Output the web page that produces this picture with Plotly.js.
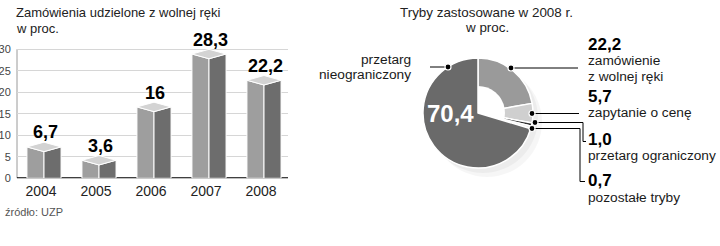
<!DOCTYPE html>
<html><head><meta charset="utf-8">
<script src="https://cdn.plot.ly/plotly-3.0.1.min.js"></script>
<style>html,body{margin:0;padding:0;background:#fff}#chart{width:720px;height:246px}</style>
</head><body><div id="chart"></div>
<script>
// ---- data ----
const years = ['2004', '2005', '2006', '2007', '2008'];
const shares = [6.7, 3.6, 16, 28.3, 22.2];
const yTicks = [0, 5, 10, 15, 20, 25, 30];
const modeNames = ['zamówienie\nz wolnej ręki', 'zapytanie o cenę', 'przetarg ograniczony', 'pozostałe tryby', 'przetarg\nnieograniczony'];
const modeShares = [22.2, 5.7, 1.0, 0.7, 70.4];

// ---- style ----
const FONT = 'Liberation Sans, Arial, sans-serif';
const C_FRONT = '#9e9e9e', C_SIDE = '#6d6d6d', C_TOP = '#d3d3d3';
const HALF = 0.31, DROP = 0.5, RISE = 0.6;
const W = 720, H = 246;
const fmt = v => String(v).replace('.', ',');
const fmt1 = v => v.toFixed(1).replace('.', ',');

const traces = [];
shares.forEach((v, i) => {
  const f = v - DROP, s = v + RISE, b = s + (s - f);
  const common = {type: 'scatter', mode: 'lines', fill: 'toself', hoverinfo: 'skip', showlegend: false,
                  line: {color: '#ffffff', width: 1}, xaxis: 'x', yaxis: 'y'};
  traces.push(Object.assign({}, common, {x: [i - HALF, i - HALF, i, i, i - HALF], y: [0, s, f, 0, 0], fillcolor: C_FRONT}));
  traces.push(Object.assign({}, common, {x: [i, i, i + HALF, i + HALF, i], y: [0, f, s, 0, 0], fillcolor: C_SIDE}));
  traces.push(Object.assign({}, common, {x: [i - HALF, i, i + HALF, i, i - HALF], y: [s, f, s, b, s], fillcolor: C_TOP}));
});

// pie geometry (pixels)
const PC = [478, 113], PR = 55, PHOLE = 27;
const dom = r => ({x: [(PC[0] - r) / W, (PC[0] + r) / W], y: [(H - PC[1] - r) / H, (H - PC[1] + r) / H]});
traces.push({type: 'pie', values: modeShares, labels: modeNames, sort: false, direction: 'clockwise', rotation: 0,
  domain: dom(PR), textinfo: 'none', hoverinfo: 'skip', showlegend: false,
  marker: {colors: ['#9a9a9a', '#cfcfcf', '#333333', '#e8e8e8', '#6a6a6a'], line: {color: '#ffffff', width: 1.5}}});
traces.push({type: 'pie', values: modeShares, labels: modeNames, sort: false, direction: 'clockwise', rotation: 0,
  domain: dom(PHOLE), textinfo: 'none', hoverinfo: 'skip', showlegend: false,
  marker: {colors: ['#ffffff', '#ffffff', '#ffffff', '#ffffff', 'rgba(0,0,0,0)'], line: {width: 0}}});
// pixel overlay axis anchor
traces.push({type: 'scatter', x: [], y: [], xaxis: 'x2', yaxis: 'y2', hoverinfo: 'skip', showlegend: false});

// bar subplot geometry
const PX_PER_UNIT = 4.3, Y0PX = 178.3, YMAX = 32;
const X0PX = 17, X1PX = 288, CAT0 = 44, CATW = 55;
const ydom = [(H - Y0PX) / H, (H - (Y0PX - YMAX * PX_PER_UNIT)) / H];
const xdom = [X0PX / W, X1PX / W];

const annotations = [];
const txt = (x, y, text, size, opts) => Object.assign({xref: 'x2', yref: 'y2', x, y, text, showarrow: false,
  xanchor: 'left', yanchor: 'middle', borderpad: 0, font: {family: FONT, size, color: '#1a1a1a'}}, opts || {});

// bar titles
annotations.push(txt(15, 12, 'Zamówienia udzielone z wolnej ręki', 13, {font: {family: FONT, size: 13, color: '#222'}}));
annotations.push(txt(15, 28.5, 'w proc.', 13, {font: {family: FONT, size: 13, color: '#222'}}));
annotations.push(txt(4, 212, 'źródło: UZP', 11, {font: {family: FONT, size: 11, color: '#555'}}));
// bar value labels
shares.forEach((v, i) => annotations.push({xref: 'x', yref: 'y', x: i + 0.02, y: v, yshift: 17, text: fmt(v), showarrow: false,
  xanchor: 'center', yanchor: 'middle', borderpad: 0, font: {family: FONT, size: 18, color: '#000', weight: 700}}));

// pie titles
annotations.push(txt(486, 12, 'Tryby zastosowane w 2008 r.', 13.4, {xanchor: 'center', font: {family: FONT, size: 13.4, color: '#222'}}));
annotations.push(txt(487, 27.5, 'w proc.', 13.4, {xanchor: 'center', font: {family: FONT, size: 13.4, color: '#222'}}));

// callouts (pixel positions)
const callouts = [
  {dot: [511, 68], path: 'M511,68 H578', tx: 587, vy: 44, ly: [60.5, 76]},
  {dot: [532, 113.5], path: 'M532,113.5 H579', tx: 587, vy: 96.5, ly: [112.5]},
  {dot: [535, 122.5], path: 'M535,122.5 H583 V141.5 H586', tx: 587, vy: 139.5, ly: [155.5]},
  {dot: [532, 128.5], path: 'M532,128.5 H580 V181.5 H585', tx: 587, vy: 180.5, ly: [197]},
  {dot: [448, 67], path: 'M430,67 H448', tx: 412, vy: null, ly: [59.5, 74], right: true}
];
const shapes = [];
// soft shadow under the pie
shapes.push({type: 'circle', xref: 'x2', yref: 'y2', x0: PC[0] - PR + 9, x1: PC[0] + PR + 9, y0: PC[1] - PR + 9, y1: PC[1] + PR + 9,
  fillcolor: 'rgba(0,0,0,0.035)', line: {width: 0}, layer: 'below'});
shapes.push({type: 'circle', xref: 'x2', yref: 'y2', x0: PC[0] - PR + 5, x1: PC[0] + PR + 5, y0: PC[1] - PR + 5, y1: PC[1] + PR + 5,
  fillcolor: 'rgba(0,0,0,0.04)', line: {width: 0}, layer: 'below'});
// axis line & zero line
shapes.push({type: 'line', xref: 'paper', yref: 'y', x0: xdom[0], x1: xdom[0], y0: 0, y1: 30, line: {color: '#9a9a9a', width: 1}, layer: 'between'});
shapes.push({type: 'line', xref: 'paper', yref: 'y', x0: xdom[0], x1: xdom[1], y0: 0, y1: 0, line: {color: '#000', width: 2}, layer: 'between'});

callouts.forEach((c, k) => {
  shapes.push({type: 'path', xref: 'x2', yref: 'y2', path: c.path, line: {color: '#000', width: 1}, layer: 'above'});
  shapes.push({type: 'circle', xref: 'x2', yref: 'y2', x0: c.dot[0] - 3, x1: c.dot[0] + 3, y0: c.dot[1] - 3, y1: c.dot[1] + 3,
    fillcolor: '#000', line: {color: '#fff', width: 1.2}, layer: 'above'});
  const lines = modeNames[k].split('\n');
  if (c.vy !== null) annotations.push(txt(c.tx, c.vy, fmt1(modeShares[k]), 17, {font: {family: FONT, size: 17, color: '#000', weight: 700}}));
  lines.forEach((l, j) => annotations.push(txt(c.tx, c.ly[j], l, 13.7, {xanchor: c.right ? 'right' : 'left'})));
});
// big value inside pie
annotations.push(txt(450, 113, fmt1(modeShares[4]), 24, {xanchor: 'center', font: {family: FONT, size: 24, color: '#fff', weight: 700}}));

const layout = {
  width: W, height: H, margin: {l: 0, r: 0, t: 0, b: 0}, paper_bgcolor: '#fff', plot_bgcolor: 'rgba(0,0,0,0)',
  showlegend: false,
  xaxis: {domain: xdom, range: [-(CAT0 - X0PX) / CATW, (X1PX - CAT0) / CATW], tickvals: years.map((_, i) => i), ticktext: years,
    showgrid: false, zeroline: false, showline: false, ticks: '', ticklabelshift: -3, ticklabelstandoff: 3,
    tickfont: {family: FONT, size: 14, color: '#222'}, fixedrange: true},
  yaxis: {domain: ydom, range: [0, YMAX], tickvals: yTicks, showgrid: true, gridcolor: '#d6d6d6', gridwidth: 1,
    zeroline: false, showline: false, ticks: 'outside', ticklen: 3, tickcolor: 'rgba(0,0,0,0)',
    tickfont: {family: FONT, size: 11, color: '#444'}, fixedrange: true},
  xaxis2: {domain: [0, 1], range: [0, W], visible: false, anchor: 'y2', fixedrange: true},
  yaxis2: {domain: [0, 1], range: [H, 0], visible: false, anchor: 'x2', fixedrange: true},
  shapes, annotations
};
Plotly.newPlot('chart', traces, layout, {staticPlot: true, displayModeBar: false});
</script></body></html>
